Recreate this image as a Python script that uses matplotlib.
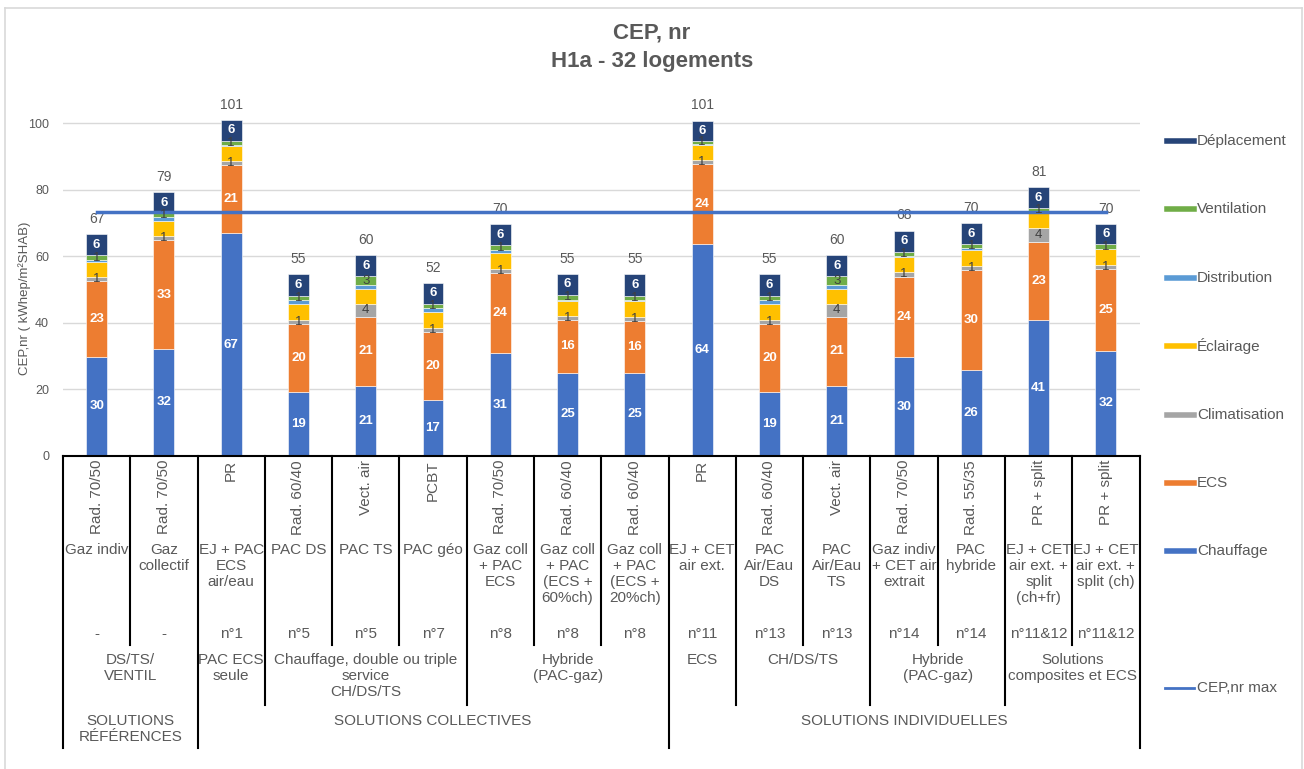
import matplotlib.pyplot as plt
import matplotlib.transforms as mtransforms
from matplotlib.lines import Line2D
import numpy as np

plt.rcParams['font.family'] = ['Liberation Sans', 'DejaVu Sans']

# --- données (kWhep/m²SHAB) ---
chauffage = [29.9, 32.2, 66.9, 19.2, 21.0, 16.8, 30.9, 25.0, 25.0, 63.7, 19.2, 21.0, 29.7, 25.9, 40.8, 31.6]
ecs = [22.7, 32.6, 20.7, 20.4, 20.9, 20.4, 24.2, 15.9, 15.7, 24.1, 20.4, 20.9, 24.2, 30.0, 23.4, 24.6]
climatisation = [1.1, 1.2, 1.2, 1.3, 3.7, 1.3, 1.1, 1.1, 1.1, 1.2, 1.3, 3.7, 1.4, 1.3, 4.4, 1.3]
eclairage = [4.6, 4.5, 4.5, 4.7, 4.5, 4.8, 4.7, 4.7, 4.7, 4.5, 4.7, 4.5, 4.5, 4.7, 4.4, 4.6]
distribution = [0.6, 1.2, 0.2, 1.3, 1.2, 1.2, 1.0, 0.3, 0.3, 0.2, 1.3, 1.2, 0.3, 0.5, 0.3, 0.2]
ventilation = [1.4, 1.3, 1.2, 1.3, 2.8, 1.3, 1.4, 1.4, 1.4, 1.1, 1.3, 2.8, 1.3, 1.3, 1.1, 1.3]
deplacement = [6.3, 6.3, 6.3, 6.4, 6.2, 6.2, 6.3, 6.3, 6.4, 6.0, 6.4, 6.2, 6.3, 6.2, 6.3, 6.1]
cep_max = [73.3] * 16

emetteurs = ["Rad. 70/50", "Rad. 70/50", "PR", "Rad. 60/40", "Vect. air", "PCBT", "Rad. 70/50",
             "Rad. 60/40", "Rad. 60/40", "PR", "Rad. 60/40", "Vect. air", "Rad. 70/50",
             "Rad. 55/35", "PR + split", "PR + split"]
systemes = ["Gaz indiv", "Gaz\ncollectif", "EJ + PAC\nECS\nair/eau", "PAC DS", "PAC TS", "PAC géo",
            "Gaz coll\n+ PAC\nECS", "Gaz coll\n+ PAC\n(ECS +\n60%ch)", "Gaz coll\n+ PAC\n(ECS +\n20%ch)",
            "EJ + CET\nair ext.", "PAC\nAir/Eau\nDS", "PAC\nAir/Eau\nTS", "Gaz indiv\n+ CET air\nextrait",
            "PAC\nhybride", "EJ + CET\nair ext. +\nsplit\n(ch+fr)", "EJ + CET\nair ext. +\nsplit (ch)"]
numeros = ["-", "-", "n°1", "n°5", "n°5", "n°7", "n°8", "n°8", "n°8", "n°11", "n°13", "n°13",
           "n°14", "n°14", "n°11&12", "n°11&12"]
familles = ["DS/TS/\nVENTIL", "PAC ECS\nseule", "Chauffage, double ou triple\nservice\nCH/DS/TS",
            "Hybride\n(PAC-gaz)", "ECS", "CH/DS/TS", "Hybride\n(PAC-gaz)", "Solutions\ncomposites et ECS"]
familles_n = [2, 1, 3, 3, 1, 2, 2, 2]
groupes = ["SOLUTIONS\nRÉFÉRENCES", "SOLUTIONS COLLECTIVES", "SOLUTIONS INDIVIDUELLES"]
groupes_n = [2, 7, 7]

series = [
    ("Chauffage", chauffage, "#4472C4", "white"),
    ("ECS", ecs, "#ED7D31", "white"),
    ("Climatisation", climatisation, "#A5A5A5", "#404040"),
    ("Éclairage", eclairage, "#FFC000", None),
    ("Distribution", distribution, "#5B9BD5", None),
    ("Ventilation", ventilation, "#70AD47", "#404040"),
    ("Déplacement", deplacement, "#264478", "white"),
]

GRAY = "#595959"
W, H = 1304, 769


def fy(py):
    return 1 - py / H


fig = plt.figure(figsize=(W / 100, H / 100), dpi=100)
ax = fig.add_axes([63 / W, fy(456), (1139.5 - 63) / W, 366 / H])
trans = mtransforms.blended_transform_factory(ax.transData, fig.transFigure)

x = np.arange(len(chauffage))
bottom = np.zeros(len(x))
for name, vals, color, lab_color in series:
    vals = np.array(vals)
    ax.bar(x, vals, 0.31, bottom=bottom, color=color, edgecolor="white", linewidth=0.4, zorder=3)
    if lab_color:
        bold = "bold" if lab_color == "white" else "normal"
        for xi, b, v in zip(x, bottom, vals):
            ax.text(xi, b + v / 2, f"{int(np.floor(v + 0.5))}", ha="center", va="center",
                    fontsize=9.5, color=lab_color, fontweight=bold, zorder=5)
    bottom = bottom + vals

for xi, tot in zip(x, bottom):
    ax.annotate(f"{int(np.floor(tot + 0.5))}", (xi, tot), xytext=(0, 11), textcoords="offset points",
                ha="center", va="center", fontsize=10, color=GRAY)

ax.plot(x, cep_max, color="#4472C4", lw=2.5, zorder=4)

ax.set_xlim(-0.5, 15.5)
ax.set_ylim(0, 110)
ax.set_yticks(np.arange(0, 101, 20))
ax.set_xticks([])
ax.grid(axis="y", color="#D9D9D9", lw=1, zorder=0)
for s in ax.spines.values():
    s.set_visible(False)
ax.tick_params(axis="y", length=0, labelsize=9, labelcolor=GRAY, pad=10)
ax.axhline(0, color="black", lw=1.5, zorder=4, clip_on=False)

fig.text(25 / W, fy(298), "CEP,nr ( kWhep/m²SHAB)", rotation=90, ha="center", va="center",
         fontsize=9.5, color=GRAY)

# --- axe des catégories à plusieurs niveaux ---
fam_bounds = np.cumsum(familles_n)
grp_bounds = np.cumsum(groupes_n)
for k in range(len(x) + 1):
    if k == 0 or k in grp_bounds:
        depth = 748
    elif k in fam_bounds:
        depth = 705
    else:
        depth = 645
    fig.add_artist(Line2D([k - 0.5, k - 0.5], [fy(456), fy(depth)], transform=trans,
                          color="black", lw=1.5))

txt = dict(transform=trans, color=GRAY, fontsize=11, ha="center", linespacing=1.18)
for xi, e, s, n in zip(x, emetteurs, systemes, numeros):
    ax.text(xi, fy(460), e, rotation=90, va="top", **txt)
    ax.text(xi, fy(543), s, va="top", **txt)
    ax.text(xi, fy(634), n, va="center", **txt)

start = 0
for lab, n in zip(familles, familles_n):
    ax.text(start + (n - 1) / 2, fy(653), lab, va="top", **txt)
    start += n
start = 0
for lab, n in zip(groupes, groupes_n):
    ax.text(start + (n - 1) / 2, fy(714), lab, va="top", **txt)
    start += n

# --- légende ---
for i, (name, vals, color, _) in enumerate(series[::-1]):
    py = 141 + 68.4 * i
    fig.add_artist(Line2D([1167 / W, 1194 / W], [fy(py), fy(py)], color=color, lw=4,
                          transform=fig.transFigure))
    fig.text(1197 / W, fy(py), name, ha="left", va="center", fontsize=11, color=GRAY)
fig.add_artist(Line2D([1165 / W, 1194 / W], [fy(688), fy(688)], color="#4472C4", lw=2,
                      transform=fig.transFigure))
fig.text(1197 / W, fy(688), "CEP,nr max", ha="left", va="center", fontsize=11, color=GRAY)

fig.text(0.5, fy(33), "CEP, nr", ha="center", va="center", fontsize=16, fontweight="bold", color=GRAY)
fig.text(0.5, fy(62), "H1a - 32 logements", ha="center", va="center", fontsize=16,
         fontweight="bold", color=GRAY)

# cadre du graphique
for xs, ys in [([5, 5], [8, 769]), ([5, 1302], [8, 8]), ([1302, 1302], [8, 769])]:
    fig.add_artist(Line2D([v / W for v in xs], [fy(v) for v in ys], color="#D9D9D9", lw=1.2,
                          transform=fig.transFigure))

fig.savefig("out.png", dpi=100, facecolor="white")
